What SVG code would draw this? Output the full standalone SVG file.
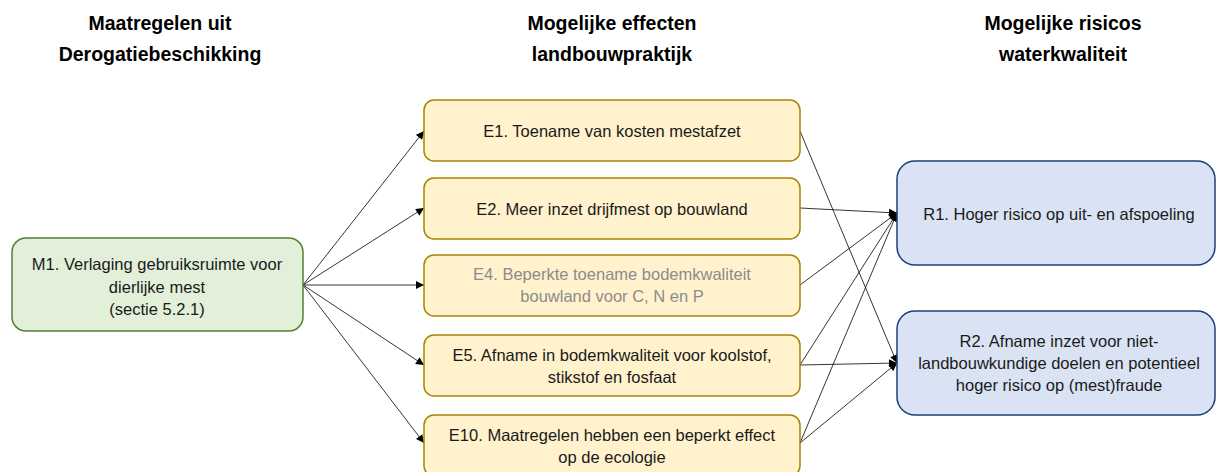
<svg xmlns="http://www.w3.org/2000/svg" width="1216" height="472" viewBox="0 0 1216 472">
<style>
.h{font-family:"Liberation Sans",Arial,sans-serif;font-weight:bold;font-size:19.5px;fill:#000;text-anchor:middle}
.t{font-family:"Liberation Sans",Arial,sans-serif;font-size:16.5px;fill:#1a1a1a;text-anchor:middle}
.g{fill:#8c8c8c}
.m{fill:#e2efd9;stroke:#538135;stroke-width:1.5}
.e{fill:#fff2cc;stroke:#a88400;stroke-width:1.5}
.r{fill:#dae3f3;stroke:#1f3c7a;stroke-width:1.5}
.c{stroke:#000;stroke-width:0.8;fill:none;marker-end:url(#ah)}
</style>
<defs>
<marker id="ah" viewBox="0 0 10 10" refX="10" refY="5" markerWidth="9" markerHeight="8" markerUnits="userSpaceOnUse" orient="auto">
<path d="M0,0 L10,5 L0,10 z" fill="#000"/>
</marker>
</defs>
<rect width="1216" height="472" fill="#fff"/>
<g id="headers">
<text class="h" x="160" y="30">Maatregelen uit</text>
<text class="h" x="160" y="61">Derogatiebeschikking</text>
<text class="h" x="612" y="30">Mogelijke effecten</text>
<text class="h" x="612" y="61">landbouwpraktijk</text>
<text class="h" x="1063" y="30">Mogelijke risicos</text>
<text class="h" x="1063" y="61">waterkwaliteit</text>
</g>
<g id="connectors">
<line class="c" x1="303" y1="285" x2="424" y2="131"/>
<line class="c" x1="303" y1="285" x2="424" y2="208"/>
<line class="c" x1="303" y1="285" x2="424" y2="285"/>
<line class="c" x1="303" y1="285" x2="424" y2="365"/>
<line class="c" x1="303" y1="285" x2="424" y2="443"/>
<line class="c" x1="800" y1="131" x2="897" y2="363"/>
<line class="c" x1="800" y1="208" x2="897" y2="213"/>
<line class="c" x1="800" y1="285" x2="897" y2="213"/>
<line class="c" x1="800" y1="365" x2="897" y2="213"/>
<line class="c" x1="800" y1="365" x2="897" y2="363"/>
<line class="c" x1="800" y1="443" x2="897" y2="213"/>
<line class="c" x1="800" y1="443" x2="897" y2="363"/>
</g>
<g id="M1">
<rect class="m" x="12" y="238" width="291" height="93" rx="14"/>
<text class="t" x="157" y="270">M1. Verlaging gebruiksruimte voor</text>
<text class="t" x="157" y="292.5">dierlijke mest</text>
<text class="t" x="157" y="315">(sectie 5.2.1)</text>
</g>
<g id="E1">
<rect class="e" x="424" y="100" width="376" height="61" rx="10"/>
<text class="t" x="612" y="137">E1. Toename van kosten mestafzet</text>
</g>
<g id="E2">
<rect class="e" x="424" y="178" width="376" height="61" rx="10"/>
<text class="t" x="612" y="214.5">E2. Meer inzet drijfmest op bouwland</text>
</g>
<g id="E4">
<rect class="e" x="424" y="255" width="376" height="61" rx="10"/>
<text class="t g" x="612" y="280">E4. Beperkte toename bodemkwaliteit</text>
<text class="t g" x="612" y="302">bouwland voor C, N en P</text>
</g>
<g id="E5">
<rect class="e" x="424" y="335" width="376" height="61" rx="10"/>
<text class="t" x="612" y="361">E5. Afname in bodemkwaliteit voor koolstof,</text>
<text class="t" x="612" y="383">stikstof en fosfaat</text>
</g>
<g id="E10">
<rect class="e" x="424" y="415" width="376" height="61" rx="10"/>
<text class="t" x="612" y="440.5">E10. Maatregelen hebben een beperkt effect</text>
<text class="t" x="612" y="462.5">op de ecologie</text>
</g>
<g id="R1">
<rect class="r" x="897" y="161" width="318" height="104" rx="18"/>
<text class="t" x="1059" y="219.5">R1. Hoger risico op uit- en afspoeling</text>
</g>
<g id="R2">
<rect class="r" x="897" y="311" width="318" height="104" rx="18"/>
<text class="t" x="1059" y="346.5">R2. Afname inzet voor niet-</text>
<text class="t" x="1059" y="368.5">landbouwkundige doelen en potentieel</text>
<text class="t" x="1059" y="390.5">hoger risico op (mest)fraude</text>
</g>
</svg>
